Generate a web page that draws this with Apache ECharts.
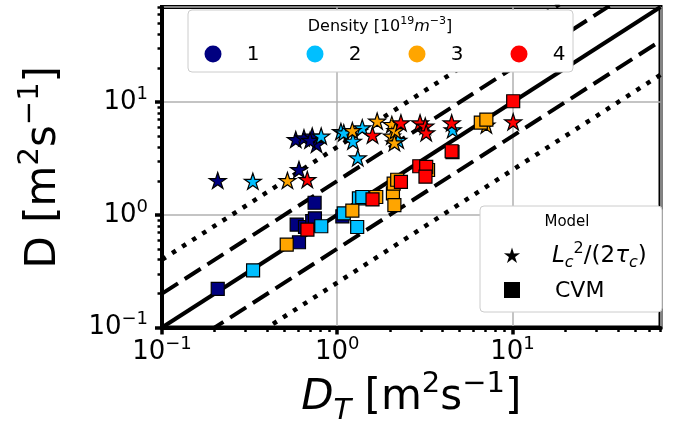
<!DOCTYPE html>
<html>
<head>
<meta charset="utf-8">
<script src="https://cdn.jsdelivr.net/npm/echarts@6/dist/echarts.min.js"></script>
<style>
html, body { margin: 0; padding: 0; background: #fff; }
#chart { width: 687px; height: 429px; }
</style>
</head>
<body>
<div id="chart"></div>
<script>
// densities (10^19 m^-3) and their colours
var densityNames = ['1', '2', '3', '4'];
var densityColors = ['#000080', '#00BFFF', '#FFA500', '#FF0000'];

// L_c^2/(2 tau_c) estimate, [D_T, D]
var starD1 = [[0.208, 2.02], [0.605, 2.53], [0.58, 4.67], [0.646, 4.83], [0.72, 5.0], [0.762, 4.23], [0.70, 4.6]];
var starD2 = [[0.33, 1.99], [0.81, 5.0], [1.05, 5.5], [1.09, 5.36], [1.39, 5.93], [1.23, 4.51], [1.31, 3.21], [2.23, 4.6], [4.56, 5.7]];
var starD3 = [[0.52, 2.02], [1.22, 5.61], [1.69, 6.8], [2.05, 6.35], [2.05, 5.0], [2.15, 5.6], [2.12, 4.37], [7.1, 6.26]];
var starD4 = [[0.675, 2.06], [1.59, 5.1], [2.31, 6.56], [2.97, 6.56], [3.18, 6.14], [3.22, 5.36], [4.5, 6.56], [10.1, 6.7]];

// CVM estimate, [D_T, D]
var cvmD1 = [[0.208, 0.22], [0.605, 0.571], [0.587, 0.82], [0.655, 0.78], [0.72, 0.88], [0.746, 0.93], [0.743, 1.28], [1.07, 0.97]];
var cvmD2 = [[0.331, 0.322], [0.811, 0.792], [1.09, 1.03], [1.30, 0.78], [1.33, 1.40], [1.39, 1.44], [4.55, 3.6]];
var cvmD3 = [[0.515, 0.544], [1.22, 1.09], [1.67, 1.44], [2.08, 1.55], [2.1, 1.89], [2.12, 1.22], [2.2, 2.05], [3.3, 2.5], [6.6, 6.6], [7.1, 7.0]];
var cvmD4 = [[0.676, 0.74], [1.59, 1.37], [2.31, 1.96], [2.94, 2.70], [3.22, 2.67], [3.19, 2.18], [4.5, 3.67], [10.1, 10.2]];

// reference lines y = k x
var refFactors = [1, 2, 0.5, 4, 0.25];
var refStyles = ['solid', 'dashed', 'dashed', 'dotted', 'dotted'];

// axes
var axisMin = 0.1, axisMax = 70;
var minorTicks = [0.2, 0.3, 0.4, 0.5, 0.6, 0.7, 0.8, 0.9, 2, 3, 4, 5, 6, 7, 8, 9, 20, 30, 40, 50, 60, 70];

var starPath = 'path://M100 0 L122.34 69.26 L195.1 69.1 L136.14 111.74 L158.8 180.9 L100 138 L41.2 180.9 L63.86 111.74 L4.9 69.1 L77.66 69.26 Z';

var FONT = 'DejaVu Sans';
var myChart = echarts.init(document.getElementById('chart'));

function powLabel(v) {
    var e = Math.round(Math.log(v) / Math.LN10);
    return '{b|10}{s|' + (e < 0 ? '\u2212' + (-e) : e) + '}';
}
var tickRich = {
    b: {fontSize: 26, fontFamily: FONT, color: '#000', lineHeight: 34},
    s: {fontSize: 18, fontFamily: FONT, color: '#000', verticalAlign: 'top', lineHeight: 18}
};
var nameRich = {
    n: {fontSize: 42, fontFamily: FONT, color: '#000', lineHeight: 56},
    i: {fontSize: 42, fontFamily: FONT, fontStyle: 'italic', color: '#000', lineHeight: 56},
    s: {fontSize: 29, fontFamily: FONT, color: '#000', verticalAlign: 'top', lineHeight: 30},
    d: {fontSize: 29, fontFamily: FONT, fontStyle: 'italic', color: '#000', verticalAlign: 'bottom', lineHeight: 36}
};

function lg(v) { return Math.log(v) / Math.LN10; }

// star outline for the legend glyph
function starPoints(cx, cy, r) {
    var pts = [];
    for (var i = 0; i < 10; i++) {
        var a = -Math.PI / 2 + i * Math.PI / 5;
        var rr = i % 2 === 0 ? r : r * 0.38;
        pts.push([cx + rr * Math.cos(a), cy + rr * Math.sin(a)]);
    }
    return pts;
}

var series = [];
refFactors.forEach(function (k, i) {
    var st = refStyles[i];
    series.push({
        type: 'line',
        xAxisIndex: 0, yAxisIndex: 0,
        data: [[axisMin, axisMin * k], [axisMax, axisMax * k]],
        symbol: 'none',
        silent: true,
        z: 1,
        lineStyle: {
            color: '#000',
            width: st === 'dotted' ? 4.5 : 4,
            type: st === 'solid' ? 'solid' : (st === 'dashed' ? [19, 8] : [4.5, 7.5]),
            cap: 'butt'
        }
    });
});

var starSets = [starD1, starD2, starD3, starD4];
var cvmSets = [cvmD1, cvmD2, cvmD3, cvmD4];
for (var d = 0; d < 4; d++) {
    series.push({
        name: densityNames[d] + ' star',
        type: 'scatter',
        data: starSets[d],
        symbol: starPath,
        symbolSize: 17,
        symbolKeepAspect: true,
        z: 3,
        itemStyle: {color: densityColors[d], borderColor: '#000', borderWidth: 1.2, opacity: 1}
    });
    series.push({
        name: densityNames[d] + ' cvm',
        type: 'scatter',
        data: cvmSets[d],
        symbol: 'rect',
        symbolSize: 13,
        z: 3,
        itemStyle: {color: densityColors[d], borderColor: '#000', borderWidth: 1.2, opacity: 1}
    });
}

var option = {
    animation: false,
    backgroundColor: '#fff',
    grid: {
        left: 162, right: 26.5, top: 7, bottom: 101.5,
        containLabel: false, outerBoundsMode: 'none',
        show: true, borderColor: '#000', borderWidth: 4, backgroundColor: 'transparent'
    },
    xAxis: [{
        type: 'log', logBase: 10,
        min: function () { return axisMin; }, max: function () { return axisMax; },
        position: 'bottom',
        axisLine: {show: true, onZero: false, lineStyle: {color: '#000', width: 4}},
        axisTick: {show: true, length: 7, lineStyle: {color: '#000', width: 3.5}},
        axisLabel: {formatter: powLabel, rich: tickRich, margin: 8, showMaxLabel: false},
        splitLine: {show: true, lineStyle: {color: '#b0b0b0', width: 1.5}},
        minorTick: {show: false},
        name: '{i|D}{d|T}{n| [m}{s|2}{n|s}{s|\u22121}{n|]}',
        nameLocation: 'middle', nameGap: 30,
        nameTextStyle: {rich: nameRich}
    }, {
        type: 'value', min: lg(axisMin), max: lg(axisMax),
        position: 'bottom',
        axisLine: {show: false, onZero: false},
        axisLabel: {show: false},
        splitLine: {show: false},
        axisTick: {show: true, length: 4.5, customValues: minorTicks.map(lg), lineStyle: {color: '#000', width: 2.5}}
    }],
    yAxis: [{
        type: 'log', logBase: 10,
        min: function () { return axisMin; }, max: function () { return axisMax; },
        position: 'left',
        axisLine: {show: true, onZero: false, lineStyle: {color: '#000', width: 4}},
        axisTick: {show: true, length: 7, lineStyle: {color: '#000', width: 3.5}},
        axisLabel: {formatter: powLabel, rich: tickRich, margin: 14, showMaxLabel: false},
        splitLine: {show: true, lineStyle: {color: '#b0b0b0', width: 1.5}},
        minorTick: {show: false},
        name: '{n|D [m}{s|2}{n|s}{s|\u22121}{n|]}',
        nameLocation: 'middle', nameGap: 90, nameRotate: 90,
        nameTextStyle: {rich: nameRich}
    }, {
        type: 'value', min: lg(axisMin), max: lg(axisMax),
        position: 'left',
        axisLine: {show: false, onZero: false},
        axisLabel: {show: false},
        splitLine: {show: false},
        axisTick: {show: true, length: 4.5, customValues: minorTicks.map(lg), lineStyle: {color: '#000', width: 2.5}}
    }],
    series: series,
    graphic: [
        // density legend
        {type: 'rect', z: 100, shape: {x: 188, y: 10, width: 385, height: 62, r: 4},
            style: {fill: '#fff', stroke: '#cccccc', lineWidth: 1}},
        {type: 'text', z: 101, x: 380, y: 27, style: {
            text: '{n|Density [10}{s|19}{i|m}{s|\u22123}{n|]}', align: 'center', verticalAlign: 'middle',
            rich: {
                n: {fontSize: 16, fontFamily: FONT, fill: '#000', lineHeight: 22},
                i: {fontSize: 16, fontFamily: FONT, fontStyle: 'italic', fill: '#000', lineHeight: 22},
                s: {fontSize: 11, fontFamily: FONT, fill: '#000', verticalAlign: 'top', lineHeight: 11}
            }}},
        {type: 'circle', z: 101, shape: {cx: 213, cy: 54, r: 8.5}, style: {fill: densityColors[0]}},
        {type: 'circle', z: 101, shape: {cx: 315, cy: 54, r: 8.5}, style: {fill: densityColors[1]}},
        {type: 'circle', z: 101, shape: {cx: 417, cy: 54, r: 8.5}, style: {fill: densityColors[2]}},
        {type: 'circle', z: 101, shape: {cx: 519, cy: 54, r: 8.5}, style: {fill: densityColors[3]}},
        {type: 'text', z: 101, x: 253, y: 55, style: {text: densityNames[0], font: '20px "DejaVu Sans"', fill: '#000', align: 'center', verticalAlign: 'middle'}},
        {type: 'text', z: 101, x: 355, y: 55, style: {text: densityNames[1], font: '20px "DejaVu Sans"', fill: '#000', align: 'center', verticalAlign: 'middle'}},
        {type: 'text', z: 101, x: 457, y: 55, style: {text: densityNames[2], font: '20px "DejaVu Sans"', fill: '#000', align: 'center', verticalAlign: 'middle'}},
        {type: 'text', z: 101, x: 559, y: 55, style: {text: densityNames[3], font: '20px "DejaVu Sans"', fill: '#000', align: 'center', verticalAlign: 'middle'}},
        // model legend
        {type: 'rect', z: 100, shape: {x: 480, y: 206, width: 182, height: 106, r: 4},
            style: {fill: '#fff', stroke: '#cccccc', lineWidth: 1}},
        {type: 'text', z: 101, x: 567, y: 222, style: {text: 'Model', font: '15px "DejaVu Sans"', fill: '#000', align: 'center', verticalAlign: 'middle'}},
        {type: 'polygon', z: 101, shape: {points: starPoints(512, 256, 8.5)}, style: {fill: '#000'}},
        {type: 'text', z: 101, x: 552, y: 256, style: {
            text: '{i|L}{d|c}{s|2}{n|/(2}{i|\u03c4}{d|c}{n|)}', align: 'left', verticalAlign: 'middle',
            rich: {
                n: {fontSize: 23, fontFamily: FONT, fill: '#000', lineHeight: 30},
                i: {fontSize: 23, fontFamily: FONT, fontStyle: 'italic', fill: '#000', lineHeight: 30},
                s: {fontSize: 16, fontFamily: FONT, fill: '#000', verticalAlign: 'top', lineHeight: 16},
                d: {fontSize: 16, fontFamily: FONT, fontStyle: 'italic', fill: '#000', verticalAlign: 'bottom', lineHeight: 19}
            }}},
        {type: 'rect', z: 101, shape: {x: 504, y: 282, width: 16, height: 16}, style: {fill: '#000'}},
        {type: 'text', z: 101, x: 555, y: 291, style: {text: 'CVM', font: '22px "DejaVu Sans"', fill: '#000', align: 'left', verticalAlign: 'middle'}}
    ]
};

myChart.setOption(option);
</script>
</body>
</html>
